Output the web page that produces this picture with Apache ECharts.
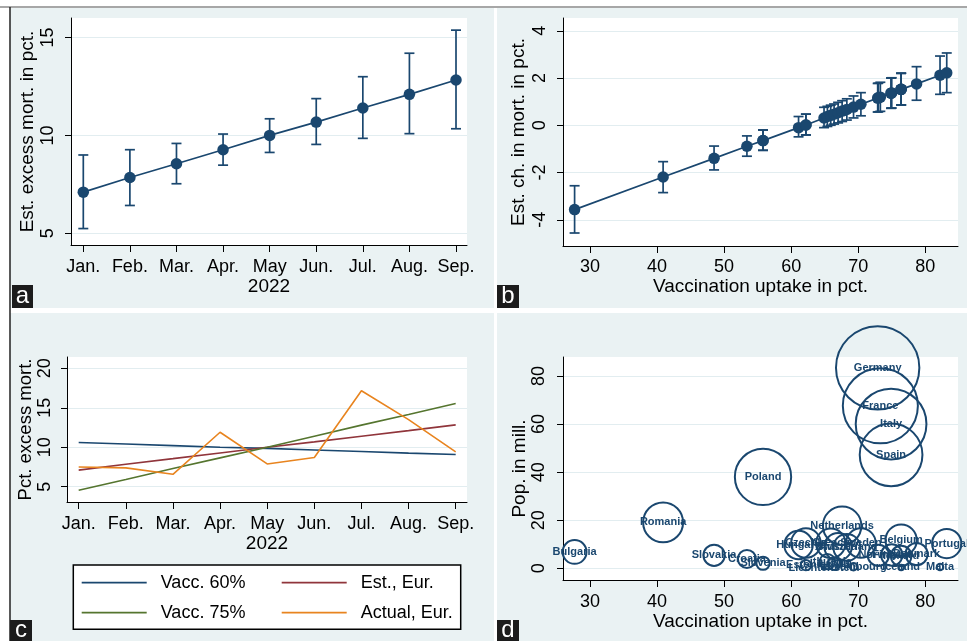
<!DOCTYPE html>
<html><head><meta charset="utf-8">
<script src="https://cdn.jsdelivr.net/npm/echarts@6/dist/echarts.min.js"></script>
<style>html,body{margin:0;padding:0;background:#fff;} #c{width:967px;height:641px;}</style>
</head><body><div id="c"></div>
<script>
// ---------- data ----------
const months = ['Jan.','Feb.','Mar.','Apr.','May','Jun.','Jul.','Aug.','Sep.'];
const monthPos = [1,2,3,4,5,6,7,8,9];
const estMort = [7.1,7.85,8.55,9.27,10.0,10.68,11.4,12.1,12.83];
const estLo   = [5.24,6.42,7.53,8.48,9.13,9.54,9.85,10.09,10.34];
const estHi   = [9.0,9.27,9.59,10.07,10.85,11.88,13.0,14.2,15.38];
const vacc60  = [10.6,10.4,10.2,10.0,9.85,9.65,9.45,9.25,9.07];
const vacc75  = [4.55,5.9,7.3,8.65,10.0,11.4,12.8,14.15,15.55];
const actualEur = [7.5,7.38,6.57,11.9,7.88,8.69,17.15,13.5,9.4];

const countries = ['Bulgaria','Romania','Slovakia','Croatia','Poland','Slovenia','Hungary','Czechia','Estonia',
  'Liechtenstein','Lithuania','Greece','Latvia','Austria','Netherlands','Switzerland','Luxembourg','Sweden',
  'Germany','Norway','France','Italy','Spain','Finland','Belgium','Ireland','Iceland','Denmark','Malta','Portugal'];
const vaccUptake = [27.7,40.9,48.5,53.4,55.8,55.8,61.1,62.2,62.2,
  64.9,65.4,65.9,66.4,67.0,67.6,68.3,69.3,70.4,
  72.9,73.0,73.3,74.9,74.9,75.0,76.4,76.4,76.4,78.7,82.2,83.2];
const popMill = [6.8,19.1,5.4,3.9,38.0,2.1,9.7,10.5,1.3,
  0.04,2.8,10.4,1.9,9.0,17.7,8.7,0.65,10.5,
  83.4,5.4,67.6,60.0,47.2,5.5,11.7,5.1,0.37,5.9,0.52,10.3];
const estChange = [-3.57,-2.19,-1.40,-0.89,-0.65,-0.65,-0.10,0.01,0.01,
  0.31,0.37,0.42,0.47,0.53,0.60,0.67,0.77,0.89,
  1.15,1.16,1.19,1.36,1.36,1.37,1.52,1.52,1.52,1.75,2.12,2.22];
const changeLo = [-4.56,-2.85,-1.89,-1.31,-1.06,-1.06,-0.49,-0.41,-0.41,
  -0.10,-0.05,0.00,0.05,0.10,0.16,0.22,0.31,0.40,
  0.56,0.57,0.59,0.72,0.72,0.73,0.86,0.86,0.86,1.06,1.31,1.38];
const changeHi = [-2.56,-1.54,-0.88,-0.45,-0.20,-0.20,0.37,0.47,0.47,
  0.76,0.80,0.85,0.90,0.97,1.04,1.12,1.24,1.38,
  1.77,1.78,1.82,2.00,2.00,2.01,2.20,2.20,2.20,2.48,2.93,3.06];

const yTicksA = [5,10,15];
const yTicksB = [-4,-2,0,2,4];
const yTicksC = [5,10,15,20];
const yTicksD = [0,20,40,60,80];
const xTicksVacc = [30,40,50,60,70,80];

// ---------- style ----------
const FONT = 'Liberation Sans, Arial, sans-serif';
const NAVY = '#1a476f', MAROON = '#90353b', GREEN = '#55752f', ORANGE = '#e8841f';
const BG = '#eaf2f3', GRIDLINE = '#e2edf0';

function xAx(gi, min, max, ticks, fmt, name, margin, gap) {
  return {type:'value', gridIndex:gi, min, max, name, nameLocation:'middle', nameGap:gap,
    nameTextStyle:{fontSize:19, color:'#000', fontFamily:FONT},
    axisLine:{show:true, onZero:false, lineStyle:{color:'#000', width:1}},
    axisTick:{show:true, length:7, customValues:ticks, lineStyle:{color:'#000', width:1}},
    axisLabel:{customValues:ticks, formatter:fmt, fontSize:18, color:'#000', margin, fontFamily:FONT},
    splitLine:{show:false}};
}
function yAx(gi, min, max, ticks, name, margin, gap, nfs) {
  return {type:'value', gridIndex:gi, min, max, name, nameLocation:'middle', nameGap:gap, nameRotate:90,
    nameTextStyle:{fontSize:nfs||19, color:'#000', fontFamily:FONT},
    axisLine:{show:true, onZero:false, lineStyle:{color:'#000', width:1}},
    axisTick:{show:true, length:6, customValues:ticks, lineStyle:{color:'#000', width:1}},
    axisLabel:{customValues:ticks, rotate:90, fontSize:18, color:'#000', margin, fontFamily:FONT},
    splitLine:{show:true, lineStyle:{color:GRIDLINE, width:1.2}}};
}
function errBars(params, api) {
  const x = api.value(0), lo = api.value(1), hi = api.value(2);
  const p1 = api.coord([x, hi]), p2 = api.coord([x, lo]);
  const w = 5, st = {stroke:NAVY, lineWidth:1.7};
  return {type:'group', children:[
    {type:'line', shape:{x1:p1[0], y1:p1[1], x2:p2[0], y2:p2[1]}, style:st},
    {type:'line', shape:{x1:p1[0]-w, y1:p1[1], x2:p1[0]+w, y2:p1[1]}, style:st},
    {type:'line', shape:{x1:p2[0]-w, y1:p2[1], x2:p2[0]+w, y2:p2[1]}, style:st}
  ]};
}
const monthFmt = v => months[monthPos.indexOf(Math.round(v))] || '';

const chart = echarts.init(document.getElementById('c'), null, {renderer:'canvas'});
const panels = [[10,8,484,300],[497,8,470,300],[10,313,484,328],[497,313,470,328]];
const letters = [['a',12,285,21,23],['b',497,285,22,23],['c',10,620,22,21],['d',497,620,22,21]];
const graphics = [];
panels.forEach(p => graphics.push({type:'rect', z:-10, shape:{x:p[0], y:p[1], width:p[2], height:p[3]}, style:{fill:BG}}));
graphics.push({type:'line', z:5, shape:{x1:0, y1:7, x2:967, y2:7}, style:{stroke:'#8a8a8a', lineWidth:1.5}});
graphics.push({type:'line', z:5, shape:{x1:10, y1:7, x2:10, y2:641}, style:{stroke:'#222', lineWidth:1.5}});
letters.forEach(l => {
  graphics.push({type:'rect', z:20, shape:{x:l[1], y:l[2], width:l[3], height:l[4]}, style:{fill:'#1c1c1c'}});
  graphics.push({type:'text', z:21, x:l[1]+l[3]/2, y:l[2]+l[4]/2, style:{text:l[0], fill:'#fff', font:'24px '+FONT, align:'center', verticalAlign:'middle'}});
});
graphics.push({type:'rect', z:1, shape:{x:73.3, y:565, width:387.4, height:64.3}, style:{fill:'#fff', stroke:'#000', lineWidth:1.5}});

const legendBase = {orient:'vertical', top:573.7, padding:0, itemGap:12, itemWidth:65, itemHeight:1.8,
  selectedMode:false, z:5, icon:'rect',
  textStyle:{fontSize:18, color:'#000', fontFamily:FONT, padding:[0,0,0,9], lineHeight:18}};

const option = {
  animation:false,
  textStyle:{fontFamily:FONT},
  graphic:graphics,
  grid:[
    {left:71, top:18, width:396, height:227, show:true, backgroundColor:'#fff', borderWidth:0},
    {left:563, top:18, width:395, height:228, show:true, backgroundColor:'#fff', borderWidth:0},
    {left:67, top:357, width:400, height:145, show:true, backgroundColor:'#fff', borderWidth:0},
    {left:563, top:357, width:395, height:223, show:true, backgroundColor:'#fff', borderWidth:0}
  ],
  xAxis:[
    xAx(0, 0.736, 9.236, monthPos, monthFmt, '2022', 13, 31),
    xAx(1, 25.97, 84.88, xTicksVacc, null, 'Vaccination uptake in pct.', 12, 31),
    xAx(2, 0.752, 9.24, monthPos, monthFmt, '2022', 13, 31),
    xAx(3, 25.97, 84.88, xTicksVacc, null, 'Vaccination uptake in pct.', 13, 32)
  ],
  yAxis:[
    yAx(0, 4.4, 16.0, yTicksA, 'Est. excess mort. in pct.', 14, 34),
    yAx(1, -5.11, 4.54, yTicksB, 'Est. ch. in mort. in pct.', 14, 35),
    yAx(2, 3.06, 21.43, yTicksC, 'Pct. excess mort.', 13, 30, 18.5),
    yAx(3, -4.87, 87.9, yTicksD, 'Pop. in mill.', 15, 33)
  ],
  legend:[
    Object.assign({}, legendBase, {data:['Vacc. 60%','Vacc. 75%'], left:81.7}),
    Object.assign({}, legendBase, {data:['Est., Eur.','Actual, Eur.'], left:281.7})
  ],
  series:[
    {type:'custom', xAxisIndex:0, yAxisIndex:0, renderItem:errBars, encode:{x:0, y:[1,2]},
      data:monthPos.map((m,i)=>[m, estLo[i], estHi[i]]), z:2, silent:true},
    {type:'line', xAxisIndex:0, yAxisIndex:0, data:monthPos.map((m,i)=>[m, estMort[i]]),
      symbol:'circle', symbolSize:11.5, itemStyle:{color:NAVY}, lineStyle:{color:NAVY, width:1.7}, z:3, silent:true},

    {type:'custom', xAxisIndex:1, yAxisIndex:1, renderItem:errBars, encode:{x:0, y:[1,2]},
      data:vaccUptake.map((v,i)=>[v, changeLo[i], changeHi[i]]), z:2, silent:true},
    {type:'line', xAxisIndex:1, yAxisIndex:1, data:vaccUptake.map((v,i)=>[v, estChange[i]]),
      symbol:'circle', symbolSize:11.5, itemStyle:{color:NAVY}, lineStyle:{color:NAVY, width:1.7}, z:3, silent:true},

    {name:'Vacc. 60%', type:'line', xAxisIndex:2, yAxisIndex:2, data:monthPos.map((m,i)=>[m, vacc60[i]]),
      symbol:'none', showSymbol:false, lineStyle:{color:NAVY, width:1.6}, itemStyle:{color:NAVY}, silent:true},
    {name:'Est., Eur.', type:'line', xAxisIndex:2, yAxisIndex:2, data:monthPos.map((m,i)=>[m, estMort[i]]),
      symbol:'none', showSymbol:false, lineStyle:{color:MAROON, width:1.6}, itemStyle:{color:MAROON}, silent:true},
    {name:'Vacc. 75%', type:'line', xAxisIndex:2, yAxisIndex:2, data:monthPos.map((m,i)=>[m, vacc75[i]]),
      symbol:'none', showSymbol:false, lineStyle:{color:GREEN, width:1.6}, itemStyle:{color:GREEN}, silent:true},
    {name:'Actual, Eur.', type:'line', xAxisIndex:2, yAxisIndex:2, data:monthPos.map((m,i)=>[m, actualEur[i]]),
      symbol:'none', showSymbol:false, lineStyle:{color:ORANGE, width:1.6}, itemStyle:{color:ORANGE}, silent:true},

    {type:'scatter', xAxisIndex:3, yAxisIndex:3, silent:true,
      data:countries.map((n,i)=>({name:n, value:[vaccUptake[i], popMill[i]]})),
      symbolSize:v => 9.13*Math.sqrt(v[1]),
      itemStyle:{color:'rgba(0,0,0,0)', borderColor:NAVY, borderWidth:2, opacity:1},
      label:{show:true, position:'inside', formatter:'{b}', color:NAVY, fontSize:11, fontWeight:'bold', fontFamily:FONT}}
  ]
};
chart.setOption(option);
</script></body></html>
